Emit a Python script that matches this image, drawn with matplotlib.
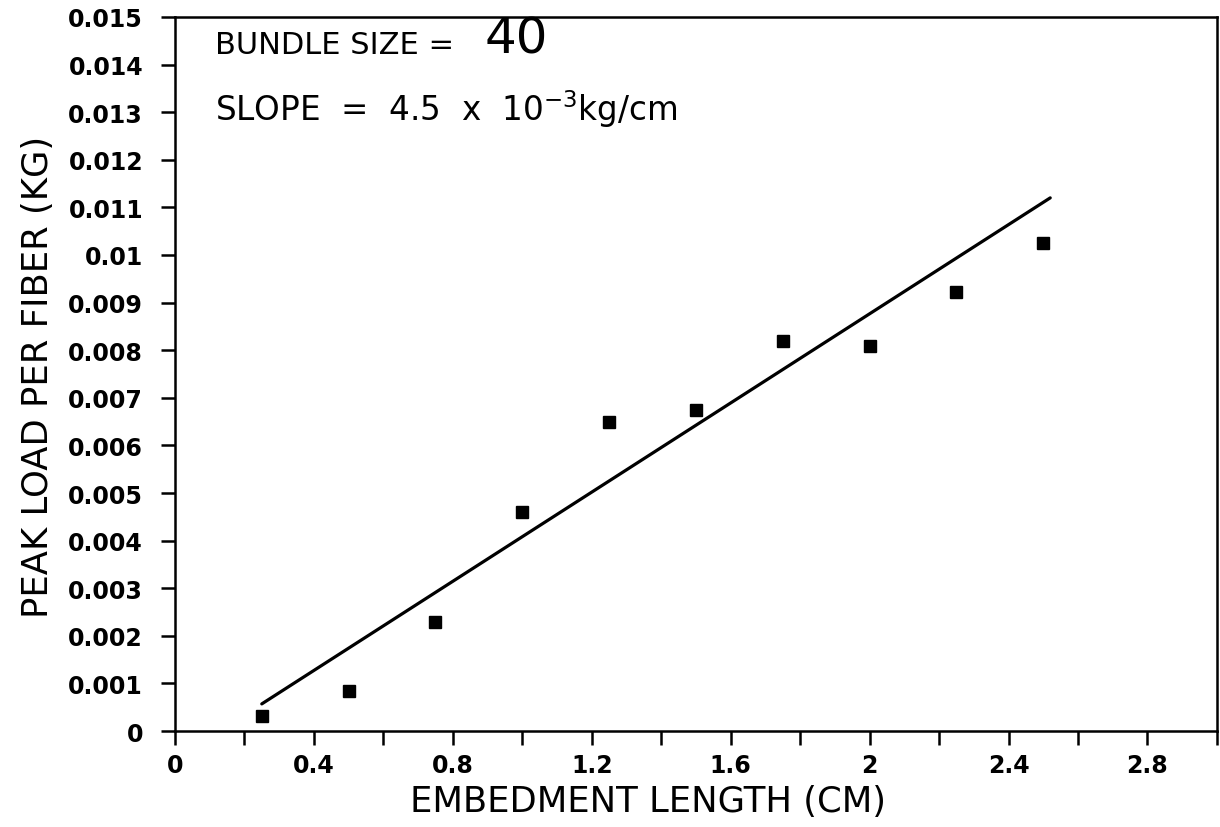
import matplotlib.pyplot as plt
from matplotlib.ticker import MultipleLocator, FormatStrFormatter

# data
embed_len = [0.25, 0.5, 0.75, 1.0, 1.25, 1.5, 1.75, 2.0, 2.25, 2.5]
peak_load = [0.00032, 0.00084, 0.00229, 0.00461, 0.00649, 0.00674, 0.00819, 0.00809, 0.00922, 0.01026]

# fitted line end points
fit_x = [0.25, 2.52]
fit_y = [0.00057, 0.0112]

bundle_txt = "BUNDLE SIZE ="
bundle_val = "40"
slope_txt = r"SLOPE  =  4.5  x  10$^{-3}$kg/cm"

plt.rcParams['font.family'] = ['DejaVu Sans']
plt.rcParams['mathtext.fontset'] = 'dejavusans'

fig = plt.figure(figsize=(12.2, 8.28), dpi=100)
ax = fig.add_axes([0.1434, 0.1159, 0.8541, 0.8624])

ax.plot(fit_x, fit_y, color='black', linewidth=2.3, solid_capstyle='round')
ax.plot(embed_len, peak_load, 's', color='black', markersize=9)

ax.set_xlim(0, 3.0)
ax.set_ylim(0, 0.015)

ax.xaxis.set_major_locator(MultipleLocator(0.4))
ax.xaxis.set_minor_locator(MultipleLocator(0.2))
ax.yaxis.set_major_locator(MultipleLocator(0.001))
ax.xaxis.set_major_formatter(FormatStrFormatter('%g'))
ax.yaxis.set_major_formatter(FormatStrFormatter('%g'))

ax.tick_params(axis='both', which='both', direction='out', length=10, width=1.8,
               top=False, right=False)
ax.tick_params(axis='both', labelsize=17)
for lbl in ax.get_xticklabels() + ax.get_yticklabels():
    lbl.set_fontweight('bold')
ax.tick_params(axis='x', pad=6)
ax.tick_params(axis='y', pad=13)

for sp in ax.spines.values():
    sp.set_linewidth(1.8)

ax.set_xlabel("EMBEDMENT LENGTH (CM)", fontsize=25.5)
ax.set_ylabel("PEAK LOAD PER FIBER (KG)", fontsize=25.5)
ax.xaxis.set_label_coords(0.454, -0.074)
ax.yaxis.set_label_coords(-0.115, 0.497)

ax.text(0.038, 0.962, bundle_txt, transform=ax.transAxes, fontsize=22,
        va='center', ha='left')
ax.text(0.297, 0.970, bundle_val, transform=ax.transAxes, fontsize=36,
        va='center', ha='left')
ax.text(0.038, 0.872, slope_txt, transform=ax.transAxes, fontsize=23.5,
        va='center', ha='left')

fig.savefig("out.png", dpi=100)
